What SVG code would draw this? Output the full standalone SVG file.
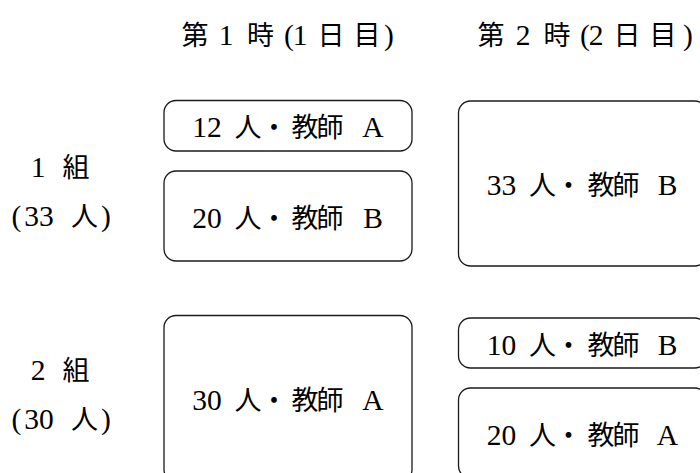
<svg xmlns="http://www.w3.org/2000/svg" width="700" height="473" viewBox="0 0 700 473">
<style>
.box{fill:#fff;stroke:#1a1a1a;stroke-width:1.3}
text{text-anchor:middle;fill:#000}
.l{font-family:"Liberation Serif","Noto Sans CJK JP",serif;font-size:29.5px}
.j{font-family:"Noto Sans CJK JP",sans-serif;font-size:27px}
</style>
<rect width="700" height="473" fill="#fff"/>
<g id="header1">
<text y="45"><tspan class="j" x="195">第</tspan><tspan class="l" x="226">1</tspan><tspan class="j" x="260.5">時</tspan><tspan class="l" x="289">(</tspan><tspan class="l" x="300">1</tspan><tspan class="j" x="331">日</tspan><tspan class="j" x="367">目</tspan><tspan class="l" x="389">)</tspan></text>
</g>
<g id="header2">
<text y="45"><tspan class="j" x="491">第</tspan><tspan class="l" x="523">2</tspan><tspan class="j" x="557">時</tspan><tspan class="l" x="585">(</tspan><tspan class="l" x="596">2</tspan><tspan class="j" x="627">日</tspan><tspan class="j" x="663">目</tspan><tspan class="l" x="688">)</tspan></text>
</g>
<g id="row1">
<text y="177"><tspan class="l" x="38">1</tspan><tspan class="j" x="76">組</tspan></text>
<text y="226"><tspan class="l" x="16.5">(</tspan><tspan class="l" x="39">33</tspan><tspan class="j" x="84.5">人</tspan><tspan class="l" x="106">)</tspan></text>
</g>
<g id="row2">
<text y="380"><tspan class="l" x="38">2</tspan><tspan class="j" x="76">組</tspan></text>
<text y="429"><tspan class="l" x="16.5">(</tspan><tspan class="l" x="39">30</tspan><tspan class="j" x="84.5">人</tspan><tspan class="l" x="106">)</tspan></text>
</g>
<g id="box1">
<rect class="box" x="164" y="100.5" width="248" height="50.5" rx="12"/>
<text y="137"><tspan class="l" x="207">12</tspan><tspan class="j" x="248">人</tspan><tspan class="j" x="274">・</tspan><tspan class="j" x="305">教</tspan><tspan class="j" x="330">師</tspan><tspan class="l" x="373">A</tspan></text>
</g>
<g id="box2">
<rect class="box" x="164" y="171" width="248" height="90" rx="12"/>
<text y="228"><tspan class="l" x="207">20</tspan><tspan class="j" x="248">人</tspan><tspan class="j" x="274">・</tspan><tspan class="j" x="305">教</tspan><tspan class="j" x="330">師</tspan><tspan class="l" x="373">B</tspan></text>
</g>
<g id="box3">
<rect class="box" x="458.5" y="101" width="248" height="165" rx="12"/>
<text y="195"><tspan class="l" x="501.5">33</tspan><tspan class="j" x="542.5">人</tspan><tspan class="j" x="568.5">・</tspan><tspan class="j" x="601">教</tspan><tspan class="j" x="626">師</tspan><tspan class="l" x="667.5">B</tspan></text>
</g>
<g id="box4">
<rect class="box" x="164" y="315.5" width="248" height="166" rx="12"/>
<text y="410"><tspan class="l" x="207">30</tspan><tspan class="j" x="248">人</tspan><tspan class="j" x="274">・</tspan><tspan class="j" x="305">教</tspan><tspan class="j" x="330">師</tspan><tspan class="l" x="373">A</tspan></text>
</g>
<g id="box5">
<rect class="box" x="458.5" y="318" width="248" height="50" rx="12"/>
<text y="355"><tspan class="l" x="501.5">10</tspan><tspan class="j" x="542.5">人</tspan><tspan class="j" x="568.5">・</tspan><tspan class="j" x="601">教</tspan><tspan class="j" x="626">師</tspan><tspan class="l" x="667.5">B</tspan></text>
</g>
<g id="box6">
<rect class="box" x="458.5" y="388" width="248" height="90" rx="12"/>
<text y="445"><tspan class="l" x="501.5">20</tspan><tspan class="j" x="542.5">人</tspan><tspan class="j" x="568.5">・</tspan><tspan class="j" x="601">教</tspan><tspan class="j" x="626">師</tspan><tspan class="l" x="667.5">A</tspan></text>
</g>
</svg>
